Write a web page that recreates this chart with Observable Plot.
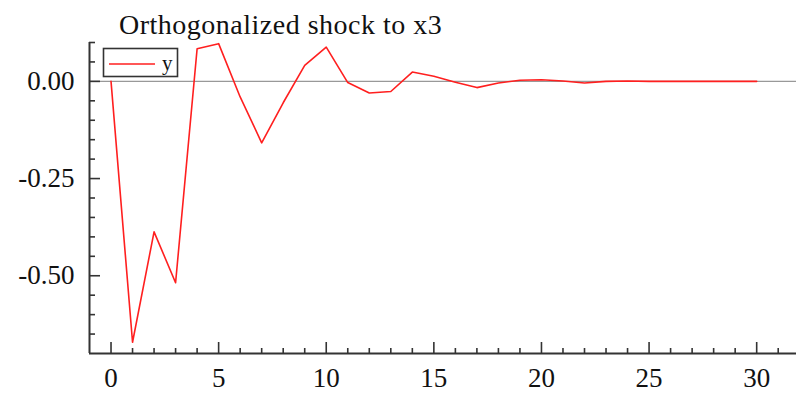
<!DOCTYPE html>
<html>
<head>
<meta charset="utf-8">
<script src="https://cdn.jsdelivr.net/npm/d3@7"></script>
<script src="https://cdn.jsdelivr.net/npm/@observablehq/plot@0.6"></script>
<style>
  html, body { margin: 0; padding: 0; background: #fff; }
  #wrap { position: relative; width: 796px; height: 394px; overflow: hidden; font-family: "Liberation Serif", "Times New Roman", serif; }
  #title { position: absolute; left: 119px; top: 10.5px; font-size: 28px; line-height: 28px; letter-spacing: 0.5px; color: #111; white-space: nowrap; }
  #legend { position: absolute; left: 0; top: 0; pointer-events: none; }
</style>
</head>
<body>
<div id="wrap">
  <div id="chart"></div>
  <div id="title">Orthogonalized shock to x3</div>
</div>
<script>
// Data
const title = "Orthogonalized shock to x3";
const seriesName = "y";
const periods = [0,1,2,3,4,5,6,7,8,9,10,11,12,13,14,15,16,17,18,19,20,21,22,23,24,25,26,27,28,29,30];
const response = [0, -0.671, -0.387, -0.518, 0.084, 0.097, -0.040, -0.158, -0.055, 0.041, 0.088,
                  -0.003, -0.030, -0.026, 0.024, 0.013, -0.002, -0.016, -0.004, 0.003, 0.004,
                  0.001, -0.004, 0.000, 0.001, 0.000, 0.000, 0.000, 0.000, 0.000, 0.000];
const xMajorTicks = [0, 5, 10, 15, 20, 25, 30];
const xMinorTicks = d3.range(0, 32).filter(v => v % 5 !== 0);
const yMajorTicks = [0, -0.25, -0.5];
const yMinorTicks = [0.1, 0.05, -0.05, -0.1, -0.15, -0.2, -0.3, -0.35, -0.4, -0.45, -0.55, -0.6, -0.65];
const xDomain = [-1, 31.85];
const yDomain = [-0.70, 0.10];

const data = periods.map((p, i) => ({period: p, value: response[i]}));
const axisColor = "#333";
const lineColor = "#ff1f1f";

const chart = Plot.plot({
  width: 796,
  height: 394,
  marginLeft: 89,
  marginRight: 0,
  marginTop: 42,
  marginBottom: 41,
  style: {fontFamily: '"Liberation Serif", "Times New Roman", serif', background: "#fff", color: "#111"},
  x: {domain: xDomain, label: null},
  y: {domain: yDomain, label: null},
  marks: [
    Plot.ruleY([0], {stroke: "#999", strokeWidth: 1.3}),
    Plot.line(data, {x: "period", y: "value", stroke: lineColor, strokeWidth: 1.6}),
    Plot.ruleX([xDomain[0]], {stroke: axisColor, strokeWidth: 2}),
    Plot.ruleY([yDomain[0]], {stroke: axisColor, strokeWidth: 2}),
    Plot.axisX(xMajorTicks, {label: null, tickSize: -11, tickFormat: () => "", stroke: axisColor, strokeWidth: 1.6}),
    Plot.axisX(xMinorTicks, {label: null, tickSize: -5, tickFormat: () => "", stroke: axisColor, strokeWidth: 1.6}),
    Plot.axisX(xMajorTicks, {label: null, tickSize: 0, tickPadding: 14, fontSize: 27, fill: "#111", tickFormat: d => String(d)}),
    Plot.axisY(yMajorTicks, {label: null, tickSize: -11, tickFormat: () => "", stroke: axisColor, strokeWidth: 1.6}),
    Plot.axisY(yMinorTicks, {label: null, tickSize: -6, tickFormat: () => "", stroke: axisColor, strokeWidth: 1.6}),
    Plot.axisY(yMajorTicks, {label: null, tickSize: 0, tickPadding: 15, fontSize: 27, fill: "#111", tickFormat: d => d.toFixed(2)})
  ]
});
document.getElementById("chart").appendChild(chart);
document.getElementById("title").textContent = title;

// Legend overlay
const lg = d3.select("#wrap").append("svg")
  .attr("id", "legend").attr("width", 796).attr("height", 394);
lg.append("rect").attr("x", 103.5).attr("y", 48.5).attr("width", 74).attr("height", 28)
  .attr("fill", "#fff").attr("stroke", "#333").attr("stroke-width", 1.6);
lg.append("line").attr("x1", 109).attr("x2", 155).attr("y1", 64).attr("y2", 64)
  .attr("stroke", lineColor).attr("stroke-width", 1.6);
lg.append("text").attr("x", 162).attr("y", 69.5).text(seriesName)
  .attr("font-family", '"Liberation Serif", "Times New Roman", serif').attr("font-size", 21).attr("fill", "#111");
</script>
</body>
</html>
